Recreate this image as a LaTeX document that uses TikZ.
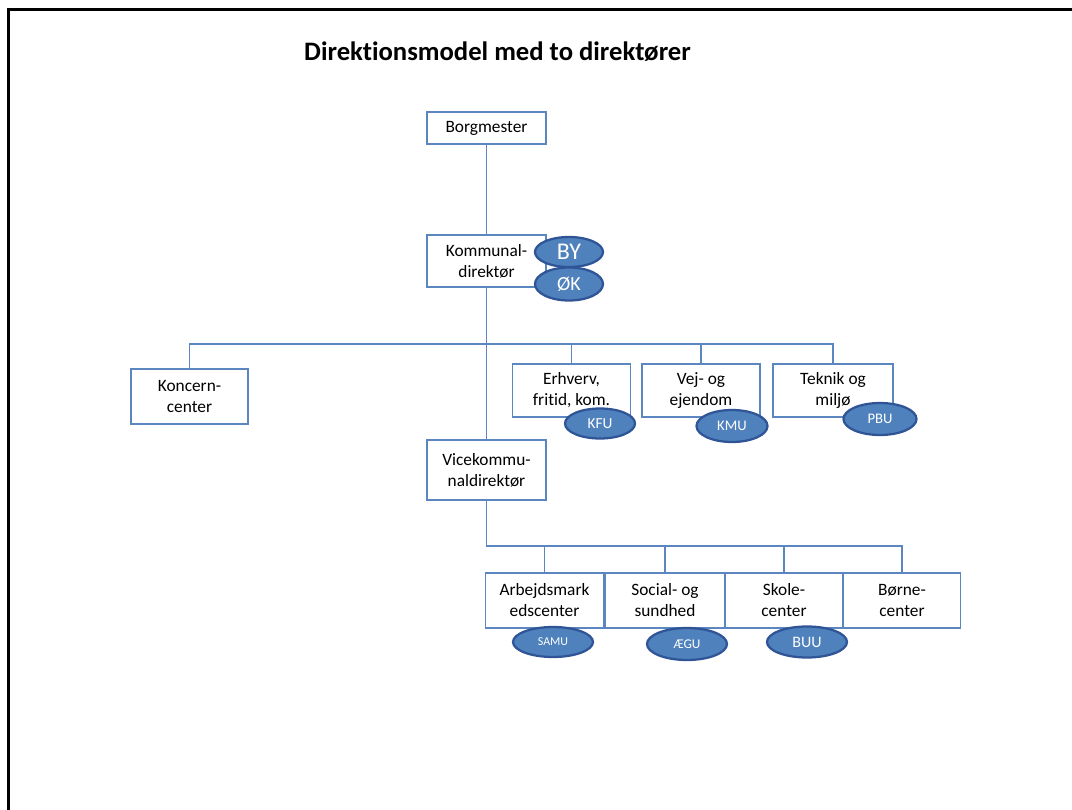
\documentclass[tikz,border=0pt]{standalone}
\usepackage{fontspec}
\setmainfont{Carlito}[Ligatures={NoCommon}]
\usetikzlibrary{shapes.geometric}
\definecolor{lineblue}{HTML}{5B86C0}
\definecolor{ellfill}{HTML}{4F81BD}
\definecolor{elldraw}{HTML}{2F5597}
\tikzset{
  orgbox/.style={draw=lineblue, line width=0.9pt, fill=white, inner sep=0pt,
    align=center, font=\fontsize{13}{15.75}\selectfont},
  ell/.style={ellipse, draw=elldraw, line width=1.7pt, fill=ellfill, inner sep=0pt,
    text=white},
  conn/.style={draw=lineblue, line width=1.1pt}
}
\begin{document}
\begin{tikzpicture}[x=0.75pt,y=-0.75pt]
\useasboundingbox (0,0) rectangle (1072,810);
\draw[line width=2.25pt] (8.5,812) -- (8.5,9) -- (1074,9);

\node (title) at (497.5,52) {\fontsize{20}{24}\selectfont\bfseries Direktionsmodel med to direktører};

% connectors
\coordinate (bus) at (486.5,344);
\coordinate (bus2) at (486.5,546);

% boxes
\node[orgbox, minimum width=89.25pt, minimum height=24pt] (borg) at (486.5,128) {Borgmester};
\node[orgbox, minimum width=89.25pt, minimum height=39pt] (kd) at (486.5,261) {Kommunal-\\direktør};
\node[orgbox, minimum width=87.75pt, minimum height=41.25pt] (koncern) at (189.5,396.5) {Koncern-\\center};
\node[orgbox, minimum width=88.5pt, minimum height=39.75pt] (erh) at (571.5,390.5) {Erhverv,\\fritid, kom.};
\node[orgbox, minimum width=88.5pt, minimum height=39.75pt] (vej) at (701,390.5) {Vej- og\\ejendom};
\node[orgbox, minimum width=90pt, minimum height=39.75pt] (tek) at (833,390.5) {Teknik og\\miljø};
\node[orgbox, minimum width=89.25pt, minimum height=45pt] (vice) at (486.5,470) {Vicekommu-\\naldirektør};
\node[orgbox, minimum width=88.5pt, minimum height=41.25pt] (arb) at (544.5,600.5) {Arbejdsmark\\edscenter};
\node[orgbox, minimum width=90pt, minimum height=41.25pt] (soc) at (665,600.5) {Social- og\\sundhed};
\node[orgbox, minimum width=88.5pt, minimum height=41.25pt] (sko) at (784,600.5) {Skole-\\center};
\node[orgbox, minimum width=87.75pt, minimum height=41.25pt] (bor) at (902,600.5) {Børne-\\center};

\draw[conn] (borg.south) -- (kd.north);
\draw[conn] (kd.south) -- (vice.north);
\draw[conn] (koncern.north) |- (tek.north |- bus) -- (tek.north);
\draw[conn] (erh.north) -- (erh.north |- bus);
\draw[conn] (vej.north) -- (vej.north |- bus);
\draw[conn] (vice.south) |- (bor.north |- bus2) -- (bor.north);
\draw[conn] (arb.north) -- (arb.north |- bus2);
\draw[conn] (soc.north) -- (soc.north |- bus2);
\draw[conn] (sko.north) -- (sko.north |- bus2);

% ellipses
\node[ell, minimum width=51pt, minimum height=22.5pt, font=\fontsize{18}{20}\selectfont] (by) at (569,252) {BY};
\node[ell, minimum width=51pt, minimum height=24.75pt, font=\fontsize{15}{17}\selectfont] (ok) at (569,284) {ØK};
\node[ell, minimum width=52.5pt, minimum height=22.5pt, font=\fontsize{11.5}{13}\selectfont] (kfu) at (600,423.5) {KFU};
\node[ell, minimum width=53.25pt, minimum height=24pt, font=\fontsize{11}{13}\selectfont] (kmu) at (732,426) {KMU};
\node[ell, minimum width=54.75pt, minimum height=24pt, font=\fontsize{11}{13}\selectfont] (pbu) at (880,419) {PBU};
\node[ell, minimum width=60pt, minimum height=22.5pt, font=\fontsize{9}{11}\selectfont] (samu) at (553,642) {SAMU};
\node[ell, minimum width=60pt, minimum height=24pt, font=\fontsize{10}{12}\selectfont] (aegu) at (687,644) {ÆGU};
\node[ell, minimum width=60pt, minimum height=23.25pt, font=\fontsize{12}{14}\selectfont] (buu) at (807,642) {BUU};
\end{tikzpicture}
\end{document}
